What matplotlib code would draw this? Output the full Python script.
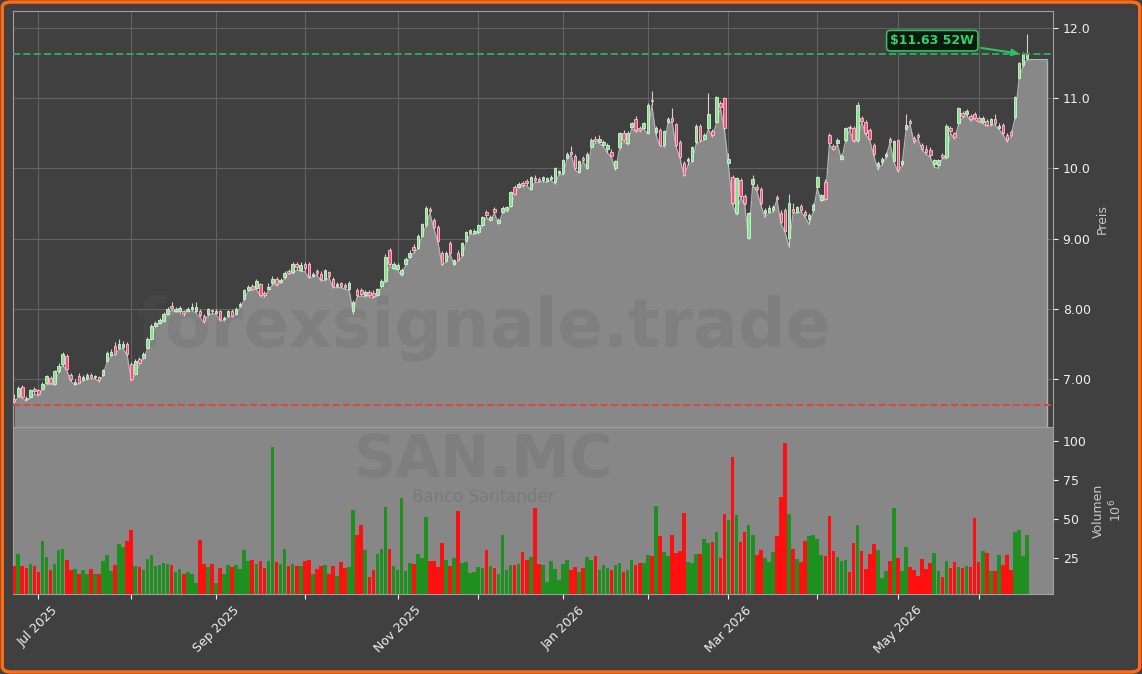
import numpy as np
import pandas as pd
import matplotlib
matplotlib.use("Agg")
import matplotlib.pyplot as plt
from matplotlib.patches import FancyBboxPatch

# SAN.MC daily candles, Jun 2025 - Jun 2026
opens = [
    6.71, 6.76, 6.89, 6.73, 6.74, 6.85, 6.84, 6.86, 6.94, 7.01,
    6.93, 7.11, 7.21, 7.33, 7.05, 6.93, 7.04, 6.99, 7.01, 7.05,
    7.02, 7.02, 7.06, 7.26, 7.34, 7.47, 7.44, 7.45, 7.50, 7.21,
    7.07, 7.28, 7.30, 7.44, 7.57, 7.76, 7.80, 7.83, 7.93, 8.04,
    7.97, 7.96, 7.96, 7.97, 7.99, 7.96, 7.97, 7.90, 7.92, 7.98,
    7.94, 7.96, 7.85, 7.90, 7.97, 7.93, 8.04, 8.14, 8.27, 8.32,
    8.30, 8.35, 8.22, 8.28, 8.36, 8.43, 8.38, 8.45, 8.54, 8.52,
    8.64, 8.55, 8.63, 8.64, 8.47, 8.53, 8.50, 8.42, 8.52, 8.43,
    8.32, 8.36, 8.34, 8.28, 7.97, 8.26, 8.27, 8.20, 8.24, 8.23,
    8.20, 8.33, 8.40, 8.83, 8.58, 8.57, 8.50, 8.64, 8.74, 8.88,
    8.87, 9.04, 9.19, 9.42, 9.26, 9.17, 8.79, 8.68, 8.93, 8.64,
    8.80, 8.76, 8.97, 9.08, 9.08, 9.09, 9.19, 9.38, 9.27, 9.42,
    9.22, 9.38, 9.40, 9.47, 9.73, 9.74, 9.79, 9.82, 9.71, 9.86,
    9.85, 9.83, 9.82, 9.85, 9.80, 9.93, 9.93, 10.15, 10.24, 10.17,
    9.95, 10.15, 10.01, 10.30, 10.42, 10.38, 10.33, 10.28, 10.24, 10.00,
    10.30, 10.50, 10.36, 10.59, 10.71, 10.58, 10.58, 10.51, 10.98, 10.52,
    10.54, 10.33, 10.66, 10.72, 10.63, 10.37, 10.07, 10.10, 10.11, 10.37,
    10.60, 10.42, 10.57, 10.53, 10.66, 10.93, 11.00, 10.07, 9.87, 9.36,
    9.83, 9.60, 9.01, 9.78, 9.74, 9.70, 9.37, 9.38, 9.40, 9.59,
    9.37, 9.40, 9.01, 9.42, 9.38, 9.46, 9.38, 9.28, 9.40, 9.73,
    9.55, 9.80, 10.47, 10.32, 10.36, 10.14, 10.40, 10.59, 10.57, 10.40,
    10.72, 10.66, 10.55, 10.34, 10.04, 10.09, 10.17, 10.42, 10.11, 10.40,
    10.06, 10.56, 10.68, 10.43, 10.47, 10.33, 10.28, 10.26, 10.06, 10.05,
    10.19, 10.16, 10.57, 10.50, 10.64, 10.79, 10.77, 10.74, 10.77, 10.72,
    10.66, 10.67, 10.63, 10.70, 10.58, 10.62, 10.47, 10.52, 10.73, 11.29,
    11.47, 11.57,
]
highs = [
    6.78, 6.90, 6.91, 6.76, 6.86, 6.88, 6.86, 6.96, 7.06, 7.04,
    7.13, 7.22, 7.38, 7.35, 7.08, 7.00, 7.08, 7.06, 7.08, 7.09,
    7.06, 7.04, 7.14, 7.39, 7.42, 7.52, 7.57, 7.54, 7.53, 7.24,
    7.28, 7.31, 7.38, 7.59, 7.78, 7.83, 7.87, 7.95, 8.03, 8.10,
    8.03, 8.04, 7.98, 8.03, 8.08, 8.10, 7.99, 7.92, 8.01, 8.00,
    7.99, 7.98, 7.90, 7.98, 7.99, 8.03, 8.10, 8.28, 8.34, 8.35,
    8.43, 8.37, 8.25, 8.36, 8.46, 8.45, 8.44, 8.54, 8.57, 8.66,
    8.67, 8.66, 8.66, 8.66, 8.52, 8.56, 8.54, 8.57, 8.54, 8.45,
    8.38, 8.38, 8.36, 8.39, 8.12, 8.29, 8.30, 8.27, 8.27, 8.26,
    8.30, 8.43, 8.78, 8.86, 8.66, 8.65, 8.58, 8.74, 8.83, 8.92,
    9.06, 9.22, 9.46, 9.45, 9.29, 9.19, 8.82, 8.82, 8.96, 8.71,
    8.83, 8.95, 9.11, 9.14, 9.13, 9.21, 9.32, 9.41, 9.34, 9.45,
    9.29, 9.46, 9.47, 9.68, 9.76, 9.80, 9.82, 9.85, 9.89, 9.90,
    9.88, 9.89, 9.88, 9.90, 10.02, 9.98, 10.14, 10.24, 10.32, 10.20,
    10.12, 10.18, 10.23, 10.43, 10.46, 10.48, 10.40, 10.36, 10.27, 10.12,
    10.52, 10.54, 10.53, 10.66, 10.74, 10.61, 10.66, 10.93, 11.10, 10.60,
    10.57, 10.55, 10.73, 10.86, 10.65, 10.40, 10.10, 10.16, 10.32, 10.63,
    10.63, 10.50, 11.08, 10.56, 11.03, 10.96, 11.02, 10.22, 9.90, 9.88,
    9.86, 9.63, 9.38, 9.90, 9.77, 9.73, 9.43, 9.48, 9.48, 9.62,
    9.40, 9.43, 9.64, 9.50, 9.47, 9.49, 9.41, 9.36, 9.50, 9.89,
    9.64, 9.85, 10.50, 10.35, 10.43, 10.20, 10.59, 10.62, 10.60, 10.94,
    10.75, 10.69, 10.58, 10.36, 10.10, 10.16, 10.23, 10.45, 10.41, 10.42,
    10.14, 10.78, 10.71, 10.46, 10.50, 10.36, 10.33, 10.30, 10.14, 10.14,
    10.22, 10.63, 10.60, 10.52, 10.88, 10.82, 10.84, 10.77, 10.80, 10.75,
    10.74, 10.70, 10.72, 10.78, 10.64, 10.65, 10.50, 10.55, 11.03, 11.52,
    11.66, 11.91,
]
lows = [
    6.66, 6.74, 6.72, 6.68, 6.72, 6.78, 6.76, 6.84, 6.92, 6.92,
    6.91, 7.09, 7.19, 7.12, 6.97, 6.91, 6.93, 6.97, 6.99, 7.00,
    7.00, 6.96, 7.04, 7.24, 7.32, 7.34, 7.42, 7.43, 7.33, 6.97,
    7.05, 7.20, 7.28, 7.42, 7.55, 7.74, 7.78, 7.81, 7.91, 7.98,
    7.95, 7.94, 7.90, 7.95, 7.97, 7.94, 7.88, 7.80, 7.90, 7.93,
    7.92, 7.83, 7.83, 7.88, 7.88, 7.91, 8.02, 8.12, 8.25, 8.26,
    8.28, 8.18, 8.16, 8.26, 8.34, 8.33, 8.36, 8.43, 8.49, 8.50,
    8.55, 8.53, 8.53, 8.44, 8.45, 8.48, 8.40, 8.40, 8.44, 8.30,
    8.30, 8.30, 8.28, 8.26, 7.93, 8.17, 8.18, 8.17, 8.17, 8.15,
    8.18, 8.31, 8.38, 8.62, 8.56, 8.55, 8.47, 8.62, 8.72, 8.80,
    8.85, 9.02, 9.17, 9.36, 9.14, 8.95, 8.62, 8.66, 8.78, 8.62,
    8.68, 8.74, 8.95, 9.06, 9.06, 9.07, 9.17, 9.30, 9.25, 9.36,
    9.20, 9.36, 9.38, 9.45, 9.62, 9.72, 9.74, 9.76, 9.69, 9.80,
    9.80, 9.81, 9.80, 9.83, 9.78, 9.91, 9.91, 10.13, 10.19, 9.98,
    9.93, 10.10, 9.99, 10.28, 10.36, 10.36, 10.31, 10.22, 10.16, 9.97,
    10.28, 10.38, 10.34, 10.57, 10.52, 10.52, 10.56, 10.49, 10.90, 10.48,
    10.32, 10.31, 10.64, 10.66, 10.31, 10.14, 9.89, 10.05, 10.09, 10.35,
    10.38, 10.40, 10.55, 10.45, 10.64, 10.86, 10.55, 10.03, 9.48, 9.34,
    9.58, 9.48, 8.99, 9.76, 9.68, 9.48, 9.30, 9.36, 9.38, 9.55,
    9.21, 9.09, 8.88, 9.36, 9.36, 9.38, 9.30, 9.20, 9.38, 9.71,
    9.53, 9.55, 10.34, 10.26, 10.34, 10.12, 10.38, 10.55, 10.38, 10.38,
    10.66, 10.48, 10.40, 10.18, 9.98, 10.05, 10.15, 10.36, 10.09, 9.95,
    10.04, 10.54, 10.62, 10.36, 10.42, 10.26, 10.20, 10.16, 10.02, 10.00,
    10.14, 10.14, 10.50, 10.42, 10.62, 10.72, 10.75, 10.68, 10.70, 10.66,
    10.64, 10.60, 10.61, 10.62, 10.56, 10.48, 10.38, 10.45, 10.71, 11.27,
    11.45, 11.55,
]
closes = [
    6.69, 6.87, 6.74, 6.71, 6.84, 6.82, 6.78, 6.93, 7.04, 6.94,
    7.11, 7.19, 7.36, 7.14, 7.00, 6.96, 6.94, 7.02, 7.06, 7.03,
    7.04, 6.99, 7.12, 7.37, 7.38, 7.36, 7.50, 7.50, 7.35, 7.00,
    7.26, 7.22, 7.36, 7.57, 7.76, 7.80, 7.84, 7.93, 8.00, 8.01,
    7.99, 8.01, 7.94, 8.00, 8.03, 8.02, 7.91, 7.82, 7.99, 7.96,
    7.96, 7.85, 7.87, 7.96, 7.90, 8.00, 8.07, 8.26, 8.31, 8.28,
    8.40, 8.20, 8.19, 8.31, 8.43, 8.35, 8.41, 8.51, 8.51, 8.64,
    8.60, 8.62, 8.58, 8.46, 8.50, 8.51, 8.43, 8.55, 8.47, 8.33,
    8.35, 8.33, 8.31, 8.36, 8.10, 8.20, 8.21, 8.24, 8.20, 8.18,
    8.28, 8.40, 8.73, 8.64, 8.63, 8.62, 8.55, 8.71, 8.80, 8.84,
    9.04, 9.20, 9.44, 9.39, 9.16, 8.97, 8.64, 8.80, 8.80, 8.69,
    8.70, 8.93, 9.09, 9.12, 9.11, 9.19, 9.30, 9.33, 9.31, 9.38,
    9.27, 9.44, 9.45, 9.66, 9.64, 9.78, 9.76, 9.79, 9.87, 9.83,
    9.82, 9.87, 9.86, 9.88, 10.00, 9.96, 10.12, 10.21, 10.21, 10.00,
    10.10, 10.12, 10.21, 10.40, 10.39, 10.42, 10.37, 10.33, 10.18, 10.10,
    10.50, 10.40, 10.51, 10.64, 10.54, 10.55, 10.64, 10.91, 10.96, 10.57,
    10.34, 10.53, 10.71, 10.68, 10.33, 10.16, 9.91, 10.14, 10.30, 10.61,
    10.40, 10.47, 10.78, 10.48, 11.01, 10.88, 10.57, 10.14, 9.50, 9.86,
    9.60, 9.50, 9.36, 9.85, 9.71, 9.50, 9.41, 9.43, 9.45, 9.57,
    9.23, 9.11, 9.50, 9.38, 9.45, 9.40, 9.33, 9.33, 9.48, 9.87,
    9.62, 9.57, 10.36, 10.28, 10.41, 10.17, 10.57, 10.57, 10.40, 10.91,
    10.68, 10.50, 10.42, 10.20, 10.07, 10.14, 10.21, 10.38, 10.39, 9.97,
    10.11, 10.62, 10.65, 10.39, 10.44, 10.28, 10.23, 10.19, 10.12, 10.12,
    10.16, 10.61, 10.53, 10.45, 10.86, 10.74, 10.82, 10.70, 10.72, 10.68,
    10.72, 10.62, 10.70, 10.65, 10.61, 10.50, 10.40, 10.47, 11.01, 11.50,
    11.63, 11.63,
]
# volume in millions of shares
volumes = [
    20, 27.6, 20, 18.6, 21, 20, 16.3, 35.9, 26, 17.5,
    21.5, 30, 31, 24, 17.5, 17.7, 15, 17.5, 15, 18,
    15, 15, 23, 27, 16.8, 20.6, 34, 32, 36, 43,
    20, 19, 17.5, 24.5, 27, 20, 20.5, 22, 21, 20.5,
    16, 18, 15, 16, 15, 9, 36.5, 21, 19, 21.5,
    9, 18.6, 15, 20.5, 19, 20.5, 18, 30, 23, 23.6,
    21, 23, 18.6, 23, 96, 22.5, 21.5, 31, 20, 21,
    20, 20, 23, 23.6, 15, 18, 20, 20.5, 15, 20,
    13.5, 22.5, 18.6, 19, 56, 40, 46, 30, 13, 17.5,
    27.5, 31, 57.7, 31, 20, 17.5, 63.5, 17, 22, 21.5,
    27.6, 25, 51.4, 23.4, 23.4, 19, 34.5, 24, 20, 25,
    55, 22, 22.5, 15.4, 16, 19, 18.6, 30, 20, 18.6,
    15, 40, 17.5, 20.5, 20.5, 21, 28.8, 23.6, 25.6, 57,
    21, 20.5, 10, 23.4, 18, 10.8, 21, 24, 17.5, 19,
    16, 18.6, 26, 24, 26.3, 17.5, 20.5, 18.6, 17.5, 20.5,
    21.8, 16, 17.5, 23.6, 20.5, 21.8, 21.8, 26.9, 26.3, 58.3,
    39, 28.8, 26.3, 39.6, 28.3, 29.5, 54, 22.5, 21.8, 27.6,
    27.6, 37, 34.6, 35, 42, 25, 53.2, 49.6, 90, 52.8,
    35, 42, 46, 39.5, 27, 30, 25, 22.5, 28.8, 39,
    64, 99, 53, 30.6, 24.4, 22.5, 36, 39, 39.6, 37,
    27, 26.3, 52, 29.5, 25.6, 23.4, 24, 16, 34.6, 46,
    29.5, 18, 27.6, 34, 30, 12, 17, 23.4, 57, 25,
    16.6, 32, 19, 17.5, 13.7, 24.4, 18, 22, 28.3, 16.6,
    13, 23.4, 18.6, 22.5, 19, 18.6, 20, 19, 51, 22.5,
    29.5, 28.3, 16.6, 16.6, 27, 20.5, 26.9, 17.5, 42, 42.7,
    26.3, 39.6,
]
high_52w = 11.63
low_52w = 6.63
ticker = "SAN.MC"
company = "Banco Santander"

holidays = pd.to_datetime(["2025-12-25", "2025-12-26", "2026-01-01",
                           "2026-04-03", "2026-04-06", "2026-05-01"])
dates = pd.bdate_range("2025-06-23", "2026-07-31")
dates = dates[~dates.isin(holidays)][:len(closes)]

o = np.array(opens)
h = np.array(highs)
l = np.array(lows)
c = np.array(closes)
v = np.array(volumes)
x = np.arange(len(c))
up = c >= o

BG = "#404040"
fig = plt.figure(figsize=(11.42, 6.74), dpi=100, facecolor=BG)
ax = fig.add_axes([0.0114, 0.3665, 0.9106, 0.6172], facecolor=BG)
axv = fig.add_axes([0.0114, 0.1187, 0.9106, 0.2478], facecolor="#878787", sharex=ax)

# filled area under the lows, carried a few bars past the last day
pad = 5
fx = np.arange(len(c) + pad)
fy = np.concatenate([l, np.full(pad, l[-1])])
ax.fill_between(fx, fy, 6.0, color="#888888", zorder=1, lw=0)
ax.plot(fx, fy, color="#b4b4b4", lw=0.9, zorder=2)
ax.vlines(fx[-1], 6.0, fy[-1], color="#b4b4b4", lw=1.0, zorder=2)

ax.text(0.453, 0.238, "forexsignale.trade", transform=ax.transAxes, fontsize=48,
        fontweight="bold", color="#5e5e5e", alpha=0.2, ha="center", va="center", zorder=3)

# candles
ax.vlines(x, l, h, color="#d0d0d0", lw=0.8, zorder=4)
body_lo = np.minimum(o, c)
body_h = np.maximum(np.abs(c - o), 0.012)
ax.bar(x, body_h, bottom=body_lo, width=0.62,
       color=np.where(up, "#86e08e", "#f2557d"),
       edgecolor=np.where(up, "#d4f5d4", "#ffc2cf"), linewidth=0.6, zorder=5)

ax.axhline(high_52w, color="#2fa85c", ls="--", lw=1.4, zorder=6)
ax.axhline(low_52w, color="#e0453d", ls="--", lw=1.4, zorder=6)
ax.annotate(r"\$%.2f 52W" % high_52w, xy=(len(c) - 2.3, high_52w), xytext=(227.5, 11.82),
            color="#35d06a", fontsize=9, fontweight="bold", ha="center", va="center",
            bbox=dict(boxstyle="round,pad=0.3", fc="#0b1a0e", ec="#2fc060", lw=1.2),
            arrowprops=dict(arrowstyle="-|>", color="#2fc060", lw=1.5, mutation_scale=10),
            zorder=8)

ax.set_xlim(-0.3, 257.4)
ax.set_ylim(6.314, 12.243)
ax.yaxis.tick_right()
ax.yaxis.set_label_position("right")
ax.set_yticks([7, 8, 9, 10, 11, 12])
ax.set_yticklabels(["7.00", "8.00", "9.00", "10.0", "11.0", "12.0"])
ax.set_ylabel("Preis", color="#c8c8c8", fontsize=9)
ax.tick_params(axis="y", colors="#f0f0f0", labelsize=9)
ax.tick_params(axis="x", bottom=False, labelbottom=False)
ax.grid(True, color="#626262", lw=0.8)
ax.set_axisbelow(True)

# volume panel
axv.bar(x, v, width=0.9, color=np.where(up, "#1f8f1f", "#ff1010"), lw=0, zorder=3)
axv.text(0.452, 0.80, ticker, transform=axv.transAxes, fontsize=42, fontweight="bold",
         color="#5e5e5e", alpha=0.22, ha="center", va="center", zorder=2)
axv.text(0.452, 0.58, company, transform=axv.transAxes, fontsize=12,
         color="#5e5e5e", alpha=0.3, ha="center", va="center", zorder=2)
axv.set_ylim(2, 109)
axv.yaxis.tick_right()
axv.yaxis.set_label_position("right")
axv.set_yticks([25, 50, 75, 100])
axv.set_ylabel("Volumen\n$10^{6}$", color="#c8c8c8", fontsize=9)
axv.tick_params(axis="y", colors="#f0f0f0", labelsize=9)

month_pos, month_lab = [], []
for i in range(1, len(dates)):
    if dates[i].month != dates[i - 1].month:
        month_pos.append(i)
        month_lab.append(dates[i].strftime("%b %Y") if dates[i].month % 2 == 1 else "")
ax.set_xticks(month_pos)
axv.set_xticks(month_pos)
axv.set_xticklabels(month_lab, rotation=45, ha="center")
axv.tick_params(axis="x", colors="#f0f0f0", labelsize=9)

for a in (ax, axv):
    for s in a.spines.values():
        s.set_color("#a0a0a0")
        s.set_linewidth(0.8)

fig.patches.append(FancyBboxPatch((0.002, 0.003), 0.996, 0.994,
                                  boxstyle="round,pad=0,rounding_size=0.008",
                                  transform=fig.transFigure, fill=False,
                                  edgecolor="#ff6a13", lw=2.5))

fig.savefig("out.png", dpi=100, facecolor=BG)
